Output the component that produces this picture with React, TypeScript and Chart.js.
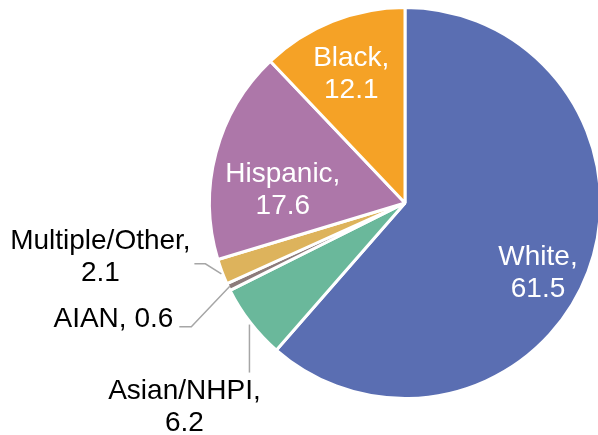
import React, { useEffect, useRef } from "react";
import { Chart, registerables } from "chart.js";

Chart.register(...registerables);

// ---- data ----
const categories = ["White", "Asian/NHPI", "AIAN", "Multiple/Other", "Hispanic", "Black"];
const values = [61.5, 6.2, 0.6, 2.1, 17.6, 12.1];
const valueLabels = ["61.5", "6.2", "0.6", "2.1", "17.6", "12.1"];

// ---- styles ----
const sliceColors = ["#5A6EB2", "#6AB89B", "#8C7B7B", "#DDB35C", "#AD77A9", "#F5A226"];
const FONT = '28px "Liberation Sans", Arial, sans-serif';
const LINE_H = 32;
const CAP_MID = 10;
const LEADER = "#A6A6A6";

// label layout per slice (offsets in px)
type Layout =
  | { mode: "in"; dx: number; dy: number }
  | { mode: "out-two"; tx: number; ty: number; leader: [number, number][] }
  | { mode: "out-one"; tx: number; ty: number; leader: [number, number][] };

const layouts: Layout[] = [
  { mode: "in", dx: 15, dy: 23.7 },
  { mode: "out-two", tx: -67, ty: 77, leader: [[-2, 3], [-2, 51]] },
  { mode: "out-one", tx: -56.5, ty: 40.4, leader: [[0, 0], [-38.5, 40.4], [-50.5, 40.4]] },
  { mode: "out-two", tx: -123, ty: -22.4, leader: [[-2, 2.6], [-18, -7.4], [-29, -7.4]] },
  { mode: "in", dx: -0.3, dy: 17.2 },
  { mode: "in", dx: -7, dy: -14.3 },
];

const labelPlugin = {
  id: "sliceLabels",
  afterDatasetsDraw(chart: any) {
    const ctx: CanvasRenderingContext2D = chart.ctx;
    const meta = chart.getDatasetMeta(0);
    ctx.save();
    ctx.font = FONT;
    ctx.textBaseline = "alphabetic";
    meta.data.forEach((arc: any, i: number) => {
      const { x, y, startAngle, endAngle, outerRadius } = arc.getProps(
        ["x", "y", "startAngle", "endAngle", "outerRadius"],
        true
      );
      const bw = 3;
      const R = outerRadius - bw / 2;
      const mid = (startAngle + endAngle) / 2;
      const lay = layouts[i];
      const l1 = categories[i] + ",";
      const l2 = valueLabels[i];
      if (lay.mode === "in") {
        const cx = x + Math.cos(mid) * R * 0.65 + lay.dx;
        const cy = y + Math.sin(mid) * R * 0.65 + lay.dy;
        ctx.fillStyle = "#FFFFFF";
        ctx.textAlign = "center";
        ctx.fillText(l1, cx, cy - LINE_H / 2 + CAP_MID);
        ctx.fillText(l2, cx, cy + LINE_H / 2 + CAP_MID);
      } else {
        const ex = x + Math.cos(mid) * R;
        const ey = y + Math.sin(mid) * R;
        ctx.strokeStyle = LEADER;
        ctx.lineWidth = 1.5;
        ctx.beginPath();
        lay.leader.forEach(([dx, dy], k) => {
          if (k === 0) ctx.moveTo(ex + dx, ey + dy);
          else ctx.lineTo(ex + dx, ey + dy);
        });
        ctx.stroke();
        ctx.fillStyle = "#000000";
        if (lay.mode === "out-two") {
          ctx.textAlign = "center";
          ctx.fillText(l1, ex + lay.tx, ey + lay.ty);
          ctx.fillText(l2, ex + lay.tx, ey + lay.ty + LINE_H);
        } else {
          ctx.textAlign = "right";
          ctx.fillText(l1 + " " + l2, ex + lay.tx, ey + lay.ty);
        }
      }
    });
    ctx.restore();
  },
};

export default function App() {
  const ref = useRef<HTMLCanvasElement | null>(null);
  useEffect(() => {
    if (!ref.current) return;
    const chart = new Chart(ref.current, {
      type: "pie",
      data: {
        labels: categories,
        datasets: [
          {
            data: values,
            backgroundColor: sliceColors,
            borderColor: "#FFFFFF",
            borderWidth: 3,
            hoverOffset: 0,
            offset: 0,
          },
        ],
      },
      options: {
        responsive: false,
        animation: false,
        devicePixelRatio: 1,
        events: [],
        layout: { padding: { left: 208, top: 6, right: 18, bottom: 35 } },
        plugins: {
          legend: { display: false },
          tooltip: { enabled: false },
        },
      },
      plugins: [labelPlugin],
    });
    return () => chart.destroy();
  }, []);
  return (
    <div
      style={{
        position: "absolute",
        left: 0,
        top: 0,
        width: 598,
        height: 435,
        overflow: "hidden",
        background: "#FFFFFF",
      }}
    >
      <canvas ref={ref} width={620} height={435} style={{ display: "block" }} />
    </div>
  );
}
